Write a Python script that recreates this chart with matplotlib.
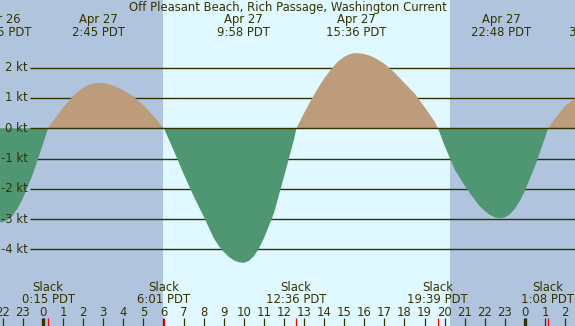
import matplotlib
matplotlib.use("Agg")
import matplotlib.pyplot as plt
import numpy as np

# hours since Apr 27 00:00 PDT, current in knots
hours = [-2.5, -2.25, -2.0, -1.75, -1.5, -1.25, -1.0, -0.5, 0.0, 0.25, 0.5, 1.0,
         1.5, 1.75, 2.0, 2.25, 2.5, 2.75, 3.0, 3.25, 3.5, 3.75, 4.0, 4.5, 5.0, 5.5, 6.0, 6.02,
         6.5, 7.0, 7.5, 8.0, 8.5, 8.75, 9.0, 9.25, 9.5, 9.75, 10.0, 10.25, 10.5, 10.75, 11.0,
         11.5, 12.0, 12.5, 12.62, 13.0, 13.5, 14.0, 14.5, 14.75, 15.0, 15.25, 15.5, 15.75,
         16.0, 16.25, 16.5, 17.0, 17.5, 18.0, 18.5, 19.0, 19.5, 19.67, 20.0, 20.5, 21.0,
         21.5, 21.75, 22.0, 22.25, 22.5, 22.75, 23.0, 23.25, 23.5, 23.75, 24.0, 24.5, 25.0,
         25.15, 25.5, 26.0, 26.5]
knots = [-3.03, -3.09, -3.10, -3.02, -2.87, -2.63, -2.31, -1.50, -0.52, 0.0, 0.23, 0.68,
         1.06, 1.21, 1.34, 1.43, 1.48, 1.50, 1.49, 1.46, 1.40, 1.33, 1.26, 1.05, 0.76, 0.40, 0.01, 0.0,
         -0.72, -1.50, -2.24, -2.91, -3.62, -3.88, -4.08, -4.24, -4.36, -4.42, -4.44, -4.38, -4.22, -3.97, -3.63,
         -2.80, -1.60, -0.36, 0.0, 0.50, 1.11, 1.65, 2.07, 2.24, 2.36, 2.44, 2.48, 2.475,
         2.45, 2.40, 2.33, 2.13, 1.84, 1.49, 1.15, 0.70, 0.22, 0.0, -0.58, -1.36, -1.90,
         -2.36, -2.57, -2.73, -2.86, -2.94, -2.97, -2.94, -2.84, -2.65, -2.39, -2.06, -1.25, -0.30,
         0.0, 0.32, 0.74, 1.00]

peak_hours = [-2.08, 2.75, 9.97, 15.6, 22.8, 27.52]
peak_dates = ["Apr 26", "Apr 27", "Apr 27", "Apr 27", "Apr 27", "Apr 28"]
peak_times = ["21:55 PDT", "2:45 PDT", "9:58 PDT", "15:36 PDT", "22:48 PDT", "3:31 PDT"]

slack_hours = [0.25, 6.02, 12.6, 19.65, 25.13]
slack_times = ["0:15 PDT", "6:01 PDT", "12:36 PDT", "19:39 PDT", "1:08 PDT"]

sunrise, sunset = 5.96, 20.27
levels = [2, 1, 0, -1, -2, -3, -4]

night = "#b0c4de"
day = "#e0f8ff"
flood = "#bd9c7b"
ebb = "#4f9673"
ink = "#333300"
fs = 8.4

fig = plt.figure(figsize=(5.75, 3.26), dpi=100)
ax = fig.add_axes([0, 0, 1, 1])
ax.set_xlim(-2.141, 26.49)
ax.set_ylim(-6.525, 4.234)
ax.axis("off")
ax.add_patch(plt.Rectangle((0, 0), 1, 1, transform=ax.transAxes, color=night, zorder=0))
ax.axvspan(sunrise, sunset, color=day, lw=0, zorder=0.5)

h = np.array(hours)
k = np.array(knots)

ax.hlines([l for l in levels if l != 0], -0.65, 27, color=ink, lw=1.0, zorder=1)
ax.fill_between(h, k, 0, where=k >= 0, interpolate=True, color=flood, lw=0, zorder=2)
ax.fill_between(h, k, 0, where=k <= 0, interpolate=True, color=ebb, lw=0, zorder=2)
ax.hlines(0, -0.65, 27, color=ink, lw=1.0, zorder=3)

for l in levels:
    ax.text(-0.747, l, "%d kt" % l, ha="right", va="center", color=ink, fontsize=fs)

tr = ax.get_xaxis_transform()
ax.text(0.5, 0.9776, "Off Pleasant Beach, Rich Passage, Washington Current",
        transform=ax.transAxes, ha="center", va="center", color=ink, fontsize=fs)
for ph, pd_, pt in zip(peak_hours, peak_dates, peak_times):
    ax.text(ph, 0.9387, pd_, transform=tr, ha="center", va="center", color=ink, fontsize=fs)
    ax.text(ph, 0.9018, pt, transform=tr, ha="center", va="center", color=ink, fontsize=fs)

for sh, st in zip(slack_hours, slack_times):
    ax.text(sh, 0.1187, "Slack", transform=tr, ha="center", va="center", color=ink, fontsize=fs)
    ax.text(sh, 0.0819, st, transform=tr, ha="center", va="center", color=ink, fontsize=fs)

# hour axis along the bottom
tick_hours = np.arange(-2, 27)
ax.vlines(tick_hours, 0, 0.0245, transform=tr, color=ink, lw=0.9, zorder=4)
ax.vlines([0, 24], 0, 0.0245, transform=tr, color=ink, lw=2.4, zorder=4)
ax.vlines(slack_hours, 0, 0.0245, transform=tr, color="red", lw=0.9, zorder=5)
for th in tick_hours:
    ax.text(th, 0.0399, str(th % 24), transform=tr, ha="center", va="center",
            color=ink, fontsize=fs)

fig.savefig("out.png", dpi=100)
